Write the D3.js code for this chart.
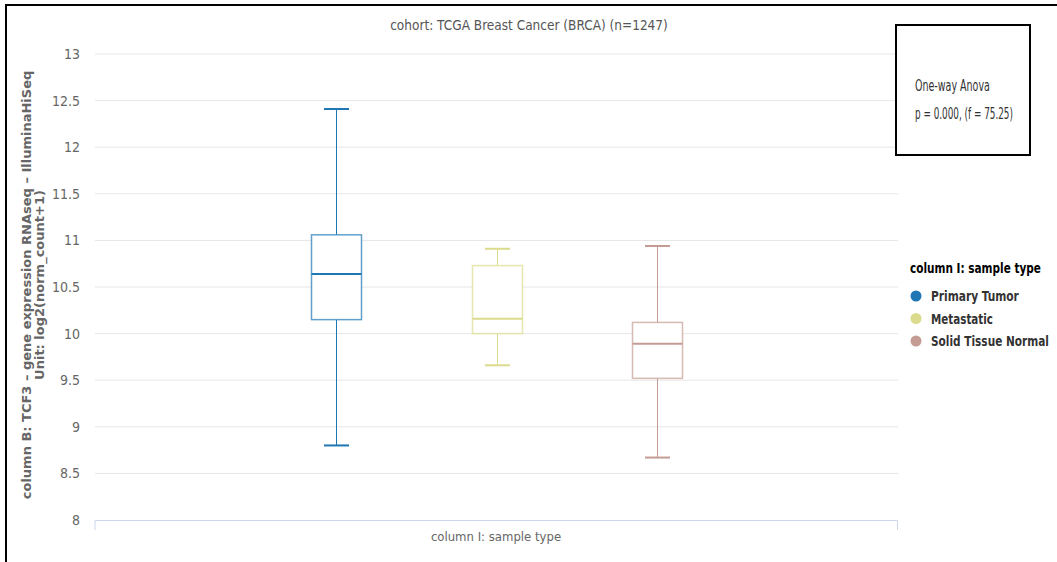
<!DOCTYPE html>
<html>
<head>
<meta charset="utf-8">
<script src="https://cdn.jsdelivr.net/npm/d3@7"></script>
<style>
  body { margin: 0; background: #fff; }
  svg text { font-family: "DejaVu Sans Condensed", "Liberation Sans", sans-serif; }
</style>
</head>
<body>
<div id="chart"></div>
<script>
// sample types and their box stats
const categories = ["Primary Tumor", "Metastatic", "Solid Tissue Normal"];
const colors = ["#1f77b4", "#dbdb8d", "#c49c94"];
const lowWhisker = [8.80, 9.66, 8.67];
const q1 = [10.15, 10.00, 9.52];
const median = [10.64, 10.16, 9.89];
const q3 = [11.06, 10.73, 10.12];
const highWhisker = [12.41, 10.91, 10.94];
const yTicks = [8, 8.5, 9, 9.5, 10, 10.5, 11, 11.5, 12, 12.5, 13];

const W = 1057, H = 562;
const plotLeft = 95, plotRight = 898, plotTop = 54, plotBottom = 520;

const svg = d3.select("#chart").append("svg")
    .attr("width", W)
    .attr("height", H);

// the original uses a narrow font: squeeze the text horizontally to a width
function narrow(sel, x0, y0, w) {
    sel.each(function () {
        const len = this.getComputedTextLength();
        const k = Math.min(1, w / len);
        d3.select(this).attr("x", 0).attr("y", 0)
            .attr("transform", "translate(" + x0 + "," + y0 + ") scale(" + k + ",1)");
    });
}

// outer frame (only top and left edges show)
svg.append("line").attr("x1", 5).attr("x2", W).attr("y1", 5).attr("y2", 5)
    .attr("stroke", "#000").attr("stroke-width", 2);
svg.append("line").attr("x1", 6).attr("x2", 6).attr("y1", 5).attr("y2", H)
    .attr("stroke", "#000").attr("stroke-width", 2);

const y = d3.scaleLinear().domain([8, 13]).range([plotBottom, plotTop]);
// 5 slots across the plot, the boxes sit in slots 1..3
const x = d3.scaleLinear().domain([0, 5]).range([plotLeft, plotRight]);

// grid
svg.append("g")
    .selectAll("line")
    .data(yTicks.filter(d => d > 8))
    .enter().append("line")
    .attr("x1", plotLeft).attr("x2", plotRight)
    .attr("y1", d => y(d)).attr("y2", d => y(d))
    .attr("stroke", "#e6e6e6").attr("stroke-width", 1);

// y axis labels
const yAxis = svg.append("g")
    .attr("transform", "translate(" + plotLeft + ",0)")
    .call(d3.axisLeft(y).tickValues(yTicks).tickSize(0).tickPadding(15).tickFormat(d3.format("")));
yAxis.select(".domain").remove();
yAxis.selectAll("text").attr("fill", "#666").style("font-size", "14px");

// x axis line
svg.append("path")
    .attr("d", "M" + plotLeft + "," + (plotBottom + 10) + "V" + (plotBottom + 0.5) + "H" + (plotRight - 0.5) + "V" + (plotBottom + 10))
    .attr("fill", "none").attr("stroke", "#ccd6eb").attr("stroke-width", 1);

// boxes
const boxW = 50, capW = 25;
const boxes = svg.append("g").selectAll("g")
    .data(categories)
    .enter().append("g");

boxes.each(function (c, i) {
    const g = d3.select(this);
    const cx = Math.round(x(i + 1.5)) + 0.5;
    const col = colors[i];
    g.append("line").attr("x1", cx).attr("x2", cx)
        .attr("y1", y(highWhisker[i])).attr("y2", y(q3[i]))
        .attr("stroke", col).attr("stroke-width", 1);
    g.append("line").attr("x1", cx).attr("x2", cx)
        .attr("y1", y(q1[i])).attr("y2", y(lowWhisker[i]))
        .attr("stroke", col).attr("stroke-width", 1);
    g.append("line").attr("x1", cx - capW / 2).attr("x2", cx + capW / 2)
        .attr("y1", y(highWhisker[i])).attr("y2", y(highWhisker[i]))
        .attr("stroke", col).attr("stroke-width", 2);
    g.append("line").attr("x1", cx - capW / 2).attr("x2", cx + capW / 2)
        .attr("y1", y(lowWhisker[i])).attr("y2", y(lowWhisker[i]))
        .attr("stroke", col).attr("stroke-width", 2);
    g.append("rect")
        .attr("x", cx - boxW / 2).attr("y", y(q3[i]))
        .attr("width", boxW).attr("height", y(q1[i]) - y(q3[i]))
        .attr("fill", "#fff").attr("stroke", col).attr("stroke-opacity", 0.7)
        .attr("stroke-width", 1.5);
    g.append("line").attr("x1", cx - boxW / 2).attr("x2", cx + boxW / 2)
        .attr("y1", y(median[i])).attr("y2", y(median[i]))
        .attr("stroke", col).attr("stroke-width", 2);
});

// title
svg.append("text")
    .attr("x", 529).attr("y", 30)
    .attr("text-anchor", "middle")
    .attr("fill", "#555").style("font-size", "13.5px")
    .text("cohort: TCGA Breast Cancer (BRCA) (n=1247)");

// x axis title
svg.append("text")
    .attr("x", 496).attr("y", 541)
    .attr("text-anchor", "middle")
    .attr("fill", "#666").style("font-size", "13px")
    .text("column I: sample type");

// y axis title, two lines
const yt = svg.append("text")
    .attr("transform", "translate(31,285) rotate(-90)")
    .attr("text-anchor", "middle")
    .attr("fill", "#666")
    .style("font-family", "'DejaVu Sans', sans-serif")
    .style("font-size", "13px")
    .style("font-weight", "bold");
yt.append("tspan").attr("x", 0).attr("dy", 0)
    .text("column B: TCF3 \u2013 gene expression RNAseq \u2013 IlluminaHiSeq");
yt.append("tspan").attr("x", 0).attr("dy", 13)
    .text("Unit: log2(norm_count+1)");

// anova box
svg.append("rect")
    .attr("x", 896).attr("y", 25).attr("width", 134).attr("height", 130)
    .attr("fill", "#fff").attr("stroke", "#000").attr("stroke-width", 2);
svg.append("text")
    .attr("fill", "#333").style("font-size", "16px")
    .text("One-way Anova")
    .call(narrow, 915, 91, 75);
svg.append("text")
    .attr("fill", "#333").style("font-size", "16px")
    .text("p = 0.000, (f = 75.25)")
    .call(narrow, 915, 119, 98);

// legend
const legendWidths = [88, 62, 118];
const legend = svg.append("g").attr("transform", "translate(910,0)");
legend.append("text")
    .attr("fill", "#000").style("font-size", "14px").style("font-weight", "bold")
    .text("column I: sample type")
    .call(narrow, 0, 273, 131);
const items = legend.selectAll("g.item")
    .data(categories)
    .enter().append("g").attr("class", "item")
    .attr("transform", (d, i) => "translate(0," + (296 + i * 22.5) + ")");
items.append("circle").attr("cx", 6).attr("cy", 0).attr("r", 5.5)
    .attr("fill", (d, i) => colors[i]);
items.append("text")
    .attr("fill", "#333").style("font-size", "14px").style("font-weight", "bold")
    .text(d => d)
    .each(function (d, i) { narrow(d3.select(this), 21, 5, legendWidths[i]); });
</script>
</body>
</html>
